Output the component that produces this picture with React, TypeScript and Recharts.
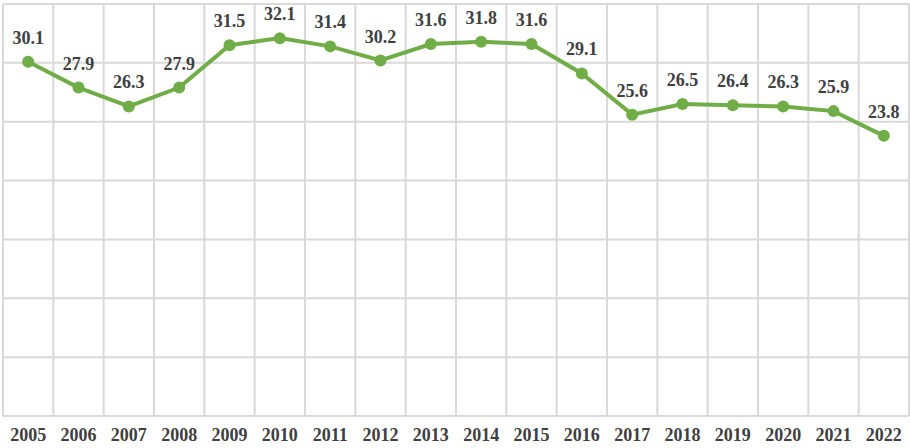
import { LineChart, Line, XAxis, YAxis, CartesianGrid, LabelList } from 'recharts';

const years = ['2005', '2006', '2007', '2008', '2009', '2010', '2011', '2012', '2013', '2014', '2015', '2016', '2017', '2018', '2019', '2020', '2021', '2022'];
const values = [30.1, 27.9, 26.3, 27.9, 31.5, 32.1, 31.4, 30.2, 31.6, 31.8, 31.6, 29.1, 25.6, 26.5, 26.4, 26.3, 25.9, 23.8];
const yTicks = [0, 5, 10, 15, 20, 25, 30, 35];

const data = years.map((year, i) => ({ year, value: values[i] }));

const serif = 'Liberation Serif';
const textColor = '#404040';

// vertical grid lines sit on the category band edges, not the centers
function bandEdges({ offset }: any) {
  const step = offset.width / years.length;
  return Array.from({ length: years.length + 1 }, (_, i) => offset.left + i * step);
}

export default function App() {
  return (
    <div style={{ position: 'absolute', left: 0, top: 0, width: 910, height: 448, background: '#fff', fontFamily: serif }}>
      <LineChart width={910} height={448} data={data} margin={{ top: 4, right: 1, left: 3, bottom: 0 }}>
        <CartesianGrid stroke="#d9d9d9" strokeWidth={2} verticalCoordinatesGenerator={bandEdges} />
        <XAxis
          dataKey="year"
          scale="band"
          height={32}
          axisLine={false}
          tickLine={false}
          interval={0}
          tick={{ fill: textColor, fontFamily: serif, fontSize: 18, fontWeight: 'bold' }}
          dy={4}
        />
        <YAxis hide domain={[0, 35]} ticks={yTicks} />
        <Line
          type="linear"
          dataKey="value"
          stroke="#70AD47"
          strokeWidth={4}
          dot={{ r: 6, fill: '#70AD47', stroke: '#70AD47', strokeWidth: 0 }}
          isAnimationActive={false}
        >
          <LabelList
            dataKey="value"
            position="top"
            offset={18}
            fill={textColor}
            fontFamily={serif}
            fontSize={18}
            fontWeight="bold"
          />
        </Line>
      </LineChart>
    </div>
  );
}
